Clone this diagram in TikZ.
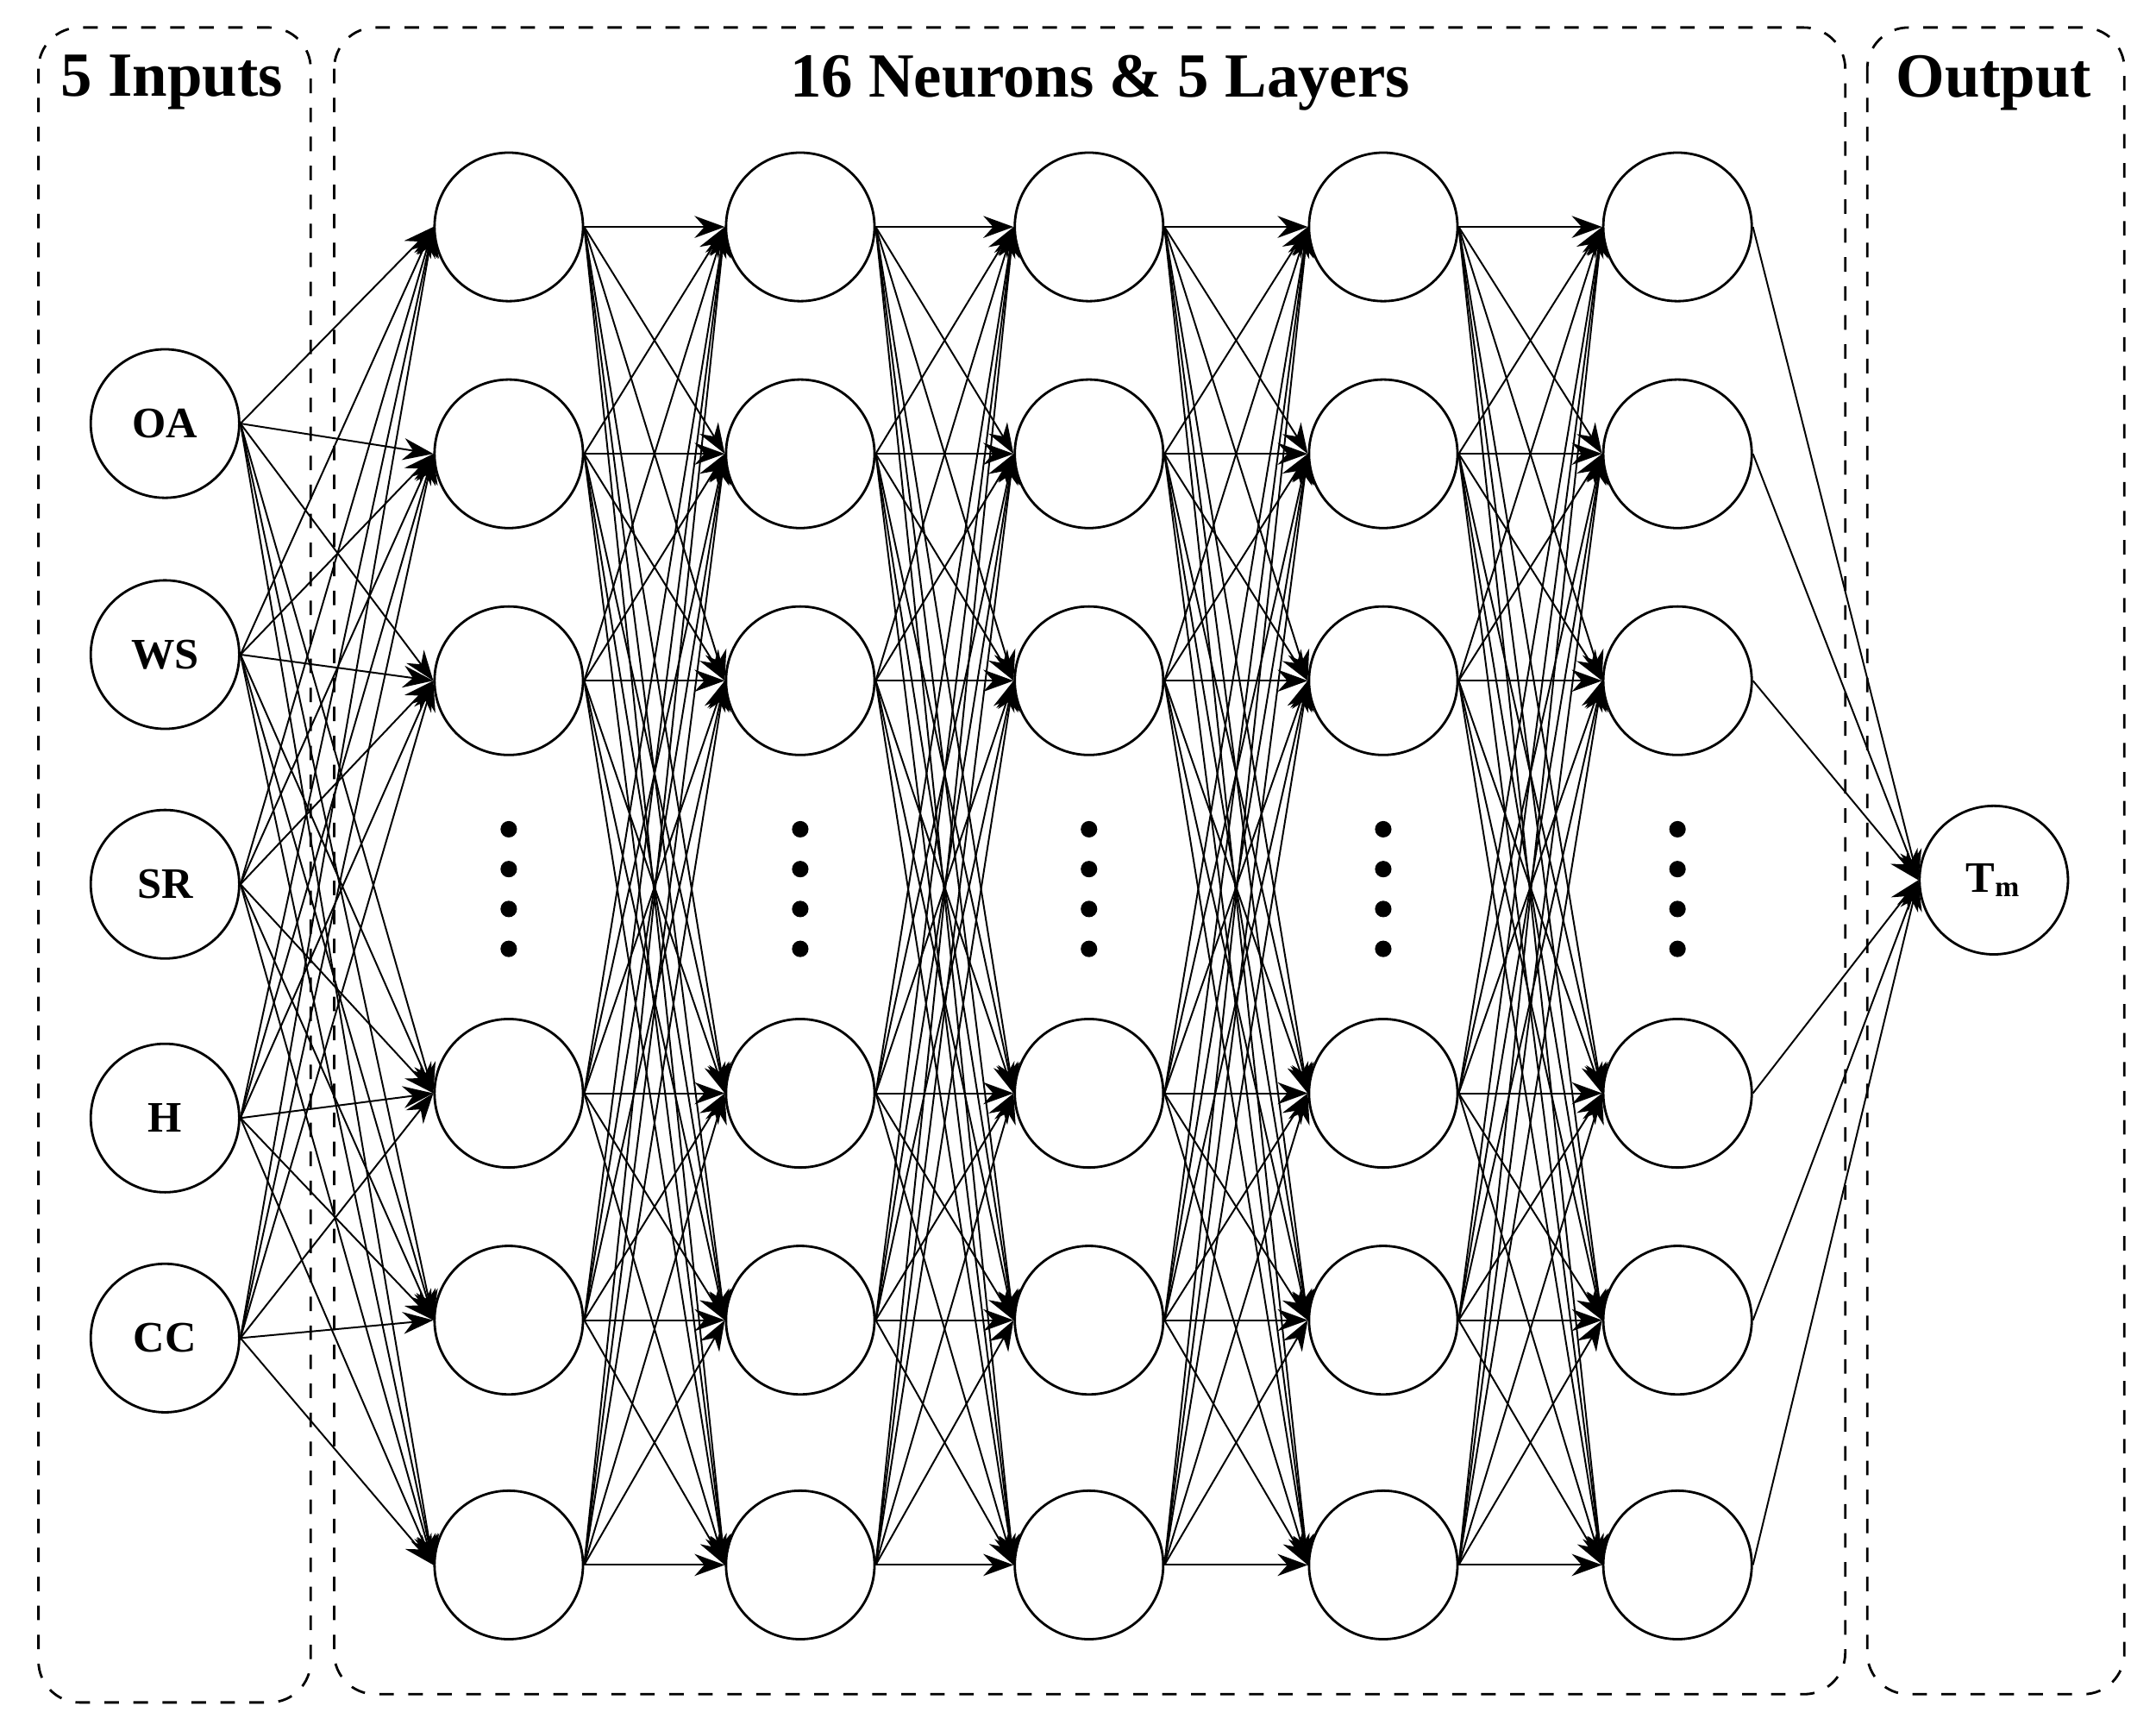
\documentclass[tikz,border=0pt]{standalone}
\usepackage{fontspec}
\setmainfont{Liberation Serif}
\usetikzlibrary{arrows.meta}
\begin{document}
\begin{tikzpicture}[x=0.1mm,y=-0.1mm,
  neuron/.style={circle,draw,line width=0.5pt,minimum size=10.8mm,inner sep=0pt,font=\bfseries\fontsize{9}{10}\selectfont},
  box/.style={draw,dashed,rounded corners=3mm,line width=0.5pt},
  title/.style={font=\bfseries\fontsize{13}{15}\selectfont},
  conn/.style={line width=0.35pt,-{Stealth[length=2.2mm,width=1.6mm]}},
  dot/.style={circle,fill,inner sep=0pt,minimum size=1.2mm}]
\useasboundingbox (0,0) rectangle (1568,1254);
\draw[box] (28,20) rectangle (226,1238);
\draw[box] (243,20) rectangle (1342,1232);
\draw[box] (1358,20) rectangle (1545,1232);
\node[title] (t1) at (125,60) {5 Inputs};
\node[title] (t2) at (800,60) {16 Neurons \& 5 Layers};
\node[title] (t3) at (1450,60) {Output};
\foreach \n/\y/\l in {1/308/OA,2/476/WS,3/643/SR,4/813/H,5/973/CC}
  \node[neuron] (i\n) at (120,\y) {\l};
\foreach \c/\x in {1/370,2/582,3/792,4/1006,5/1220}{
  \foreach \r/\y in {1/165,2/330,3/495,4/795,5/960,6/1138}
    \node[neuron] (h\c\r) at (\x,\y) {};
  \foreach \k/\y in {1/603,2/632,3/661,4/690}
    \node[dot] (d\c\k) at (\x,\y) {};
}
\node[neuron] (o) at (1450,640) {T\textsubscript{m}};
\foreach \n in {1,...,5}
  \foreach \r in {1,...,6}
    \draw[conn] (i\n.east) -- (h1\r.west);
\foreach \c/\d in {1/2,2/3,3/4,4/5}
  \foreach \r in {1,...,6}
    \foreach \s in {1,...,6}
      \draw[conn] (h\c\r.east) -- (h\d\s.west);
\foreach \r in {1,...,6}
  \draw[conn] (h5\r.east) -- (o.west);
\end{tikzpicture}
\end{document}
